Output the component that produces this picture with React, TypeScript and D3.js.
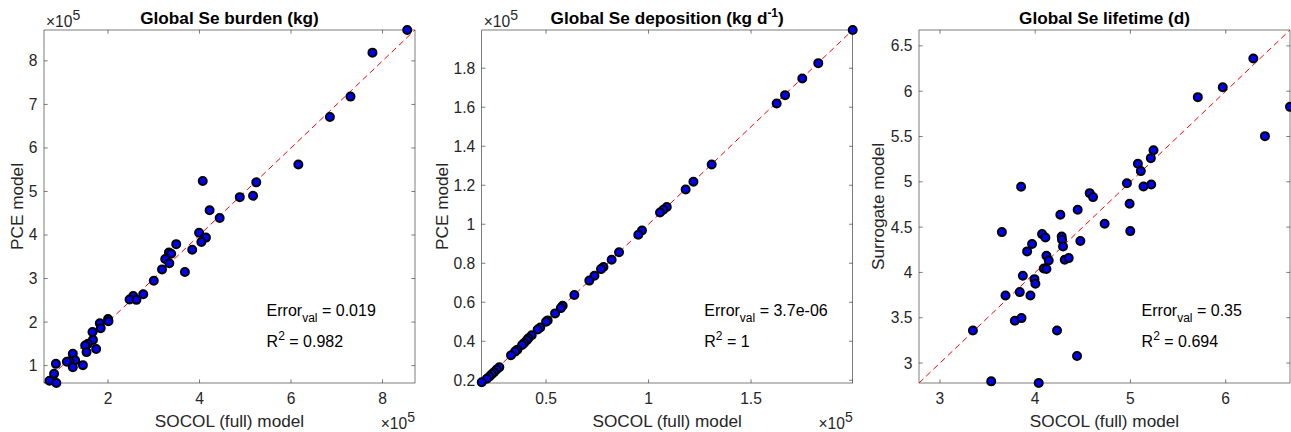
import React from "react";
import * as d3 from "d3";

// Global Se burden (x1e5 kg)
const burdenSocol = [8.54, 7.78, 7.30, 6.85, 6.16, 4.07, 5.24, 4.88, 5.17, 4.22, 4.44, 3.99, 4.14, 4.04, 3.49, 3.84, 3.33, 3.38, 3.25, 3.34, 3.68, 3.18, 3.00, 2.77, 2.55, 2.47, 2.62, 2.00, 2.01, 1.82, 1.84, 1.66, 1.67, 1.56, 1.50, 1.53, 1.74, 1.45, 1.23, 1.28, 1.16, 1.10, 1.23, 0.86, 0.82, 0.72, 0.87];
const burdenPce = [8.71, 8.19, 7.18, 6.71, 5.62, 5.24, 5.21, 4.87, 4.90, 4.57, 4.39, 4.05, 3.94, 3.84, 3.79, 3.66, 3.60, 3.57, 3.45, 3.35, 3.15, 3.21, 2.95, 2.64, 2.60, 2.52, 2.51, 2.07, 2.02, 1.97, 1.86, 1.77, 1.59, 1.50, 1.46, 1.31, 1.38, 1.01, 1.27, 1.12, 1.10, 1.09, 0.96, 1.04, 0.81, 0.65, 0.60];

// Global Se deposition (x1e5 kg d-1)
const depoSocol = [1.996, 1.828, 1.750, 1.666, 1.625, 1.308, 1.219, 1.181, 1.089, 1.072, 1.056, 0.968, 0.950, 0.856, 0.820, 0.780, 0.768, 0.736, 0.711, 0.638, 0.581, 0.572, 0.544, 0.508, 0.500, 0.472, 0.459, 0.430, 0.414, 0.406, 0.393, 0.383, 0.360, 0.349, 0.329, 0.272, 0.259, 0.246, 0.235, 0.224, 0.211, 0.186];
const depoPce = [1.996, 1.826, 1.747, 1.662, 1.619, 1.306, 1.218, 1.178, 1.088, 1.074, 1.060, 0.968, 0.946, 0.856, 0.818, 0.781, 0.770, 0.736, 0.711, 0.637, 0.582, 0.570, 0.543, 0.507, 0.500, 0.471, 0.460, 0.431, 0.415, 0.405, 0.391, 0.381, 0.357, 0.347, 0.328, 0.267, 0.255, 0.241, 0.231, 0.219, 0.208, 0.190];

// Global Se lifetime (d)
const lifeSocol = [6.290, 5.969, 5.707, 6.675, 6.412, 5.242, 5.214, 5.078, 5.109, 4.963, 5.218, 5.137, 4.991, 4.998, 4.572, 4.607, 4.729, 4.446, 4.264, 4.474, 4.278, 4.282, 4.292, 4.310, 4.352, 3.852, 3.650, 4.072, 4.107, 3.967, 3.915, 4.118, 4.142, 4.090, 4.118, 3.870, 3.992, 4.002, 3.688, 3.838, 3.950, 3.786, 3.856, 3.346, 4.229, 4.439, 3.538, 4.037];
const lifeSurrogate = [6.360, 6.044, 5.934, 5.827, 5.504, 5.349, 5.261, 5.199, 5.118, 4.985, 4.971, 4.949, 4.757, 4.456, 4.875, 4.831, 4.537, 4.691, 4.636, 4.346, 4.397, 4.360, 4.287, 4.140, 4.158, 4.945, 4.445, 4.423, 4.386, 4.313, 4.232, 4.184, 4.132, 4.044, 4.037, 3.963, 3.926, 3.875, 3.746, 3.783, 3.746, 3.467, 3.496, 3.360, 3.360, 3.077, 2.798, 2.780];

const burdenXTicks = [2, 4, 6, 8];
const burdenYTicks = [1, 2, 3, 4, 5, 6, 7, 8];
const depoXTicks = [0.5, 1, 1.5];
const depoYTicks = [0.2, 0.4, 0.6, 0.8, 1, 1.2, 1.4, 1.6, 1.8];
const lifeXTicks = [3, 4, 5, 6];
const lifeYTicks = [3, 3.5, 4, 4.5, 5, 5.5, 6, 6.5];

const errorVals = ["0.019", "3.7e-06", "0.35"];
const r2Vals = ["0.982", "1", "0.694"];

const FONT = "'Liberation Sans', Arial, Helvetica, sans-serif";
const INK = "#262626";

const W = 1291;
const H = 432;
const top = 30;
const bottom = 383;
const plotW = 371;

type PanelProps = {
  left: number;
  xs: number[];
  ys: number[];
  xTicks: number[];
  yTicks: number[];
  title: React.ReactNode;
  yLabel: string;
  yLabelX: number;
  exponent: boolean;
  err: string;
  r2: string;
};

const Exp = ({ x, y, anchor }: { x: number; y: number; anchor: string }) => (
  <text x={x} y={y} textAnchor={anchor} fontSize={15.6} fill={INK} fontFamily={FONT}>
    <tspan>×10</tspan>
    <tspan dy={-7} fontSize={14}>5</tspan>
  </text>
);

const Panel = ({ left, xs, ys, xTicks, yTicks, title, yLabel, yLabelX, exponent, err, r2 }: PanelProps) => {
  const ext = d3.extent([...xs, ...ys]) as [number, number];
  const x = d3.scaleLinear().domain(ext).range([left, left + plotW]);
  const y = d3.scaleLinear().domain(ext).range([bottom, top]);
  const fmt = d3.format("~g");
  const tl = 3.7;
  const cx = left + plotW / 2;
  const tx = left + plotW * 0.6;

  return (
    <g fontFamily={FONT}>
      <rect x={left} y={top} width={plotW} height={bottom - top} fill="#fff" stroke={INK} strokeWidth={0.6} />
      {xTicks.map((t) => (
        <g key={"x" + t}>
          <line x1={x(t)} x2={x(t)} y1={bottom} y2={bottom - tl} stroke={INK} strokeWidth={0.6} />
          <line x1={x(t)} x2={x(t)} y1={top} y2={top + tl} stroke={INK} strokeWidth={0.6} />
          <text x={x(t)} y={bottom + 21} textAnchor="middle" fontSize={15.6} fill={INK}>
            {fmt(t)}
          </text>
        </g>
      ))}
      {yTicks.map((t) => (
        <g key={"y" + t}>
          <line x1={left} x2={left + tl} y1={y(t)} y2={y(t)} stroke={INK} strokeWidth={0.6} />
          <line x1={left + plotW} x2={left + plotW - tl} y1={y(t)} y2={y(t)} stroke={INK} strokeWidth={0.6} />
          <text x={left - 6.5} y={y(t)} dy="0.35em" textAnchor="end" fontSize={15.6} fill={INK}>
            {fmt(t)}
          </text>
        </g>
      ))}
      <line
        x1={x(ext[0])}
        y1={y(ext[0])}
        x2={x(ext[1])}
        y2={y(ext[1])}
        stroke="#ff0000"
        strokeWidth={1}
        strokeDasharray="6,4"
      />
      {xs.map((v, i) => (
        <circle key={i} cx={x(v)} cy={y(ys[i])} r={4} fill="#0000ff" stroke="#000" strokeWidth={2} />
      ))}
      <text x={tx} y={316} fontSize={16} fill="#000">
        <tspan>Error</tspan>
        <tspan dy={6} fontSize={12}>val</tspan>
        <tspan dy={-6}>{" = " + err}</tspan>
      </text>
      <text x={tx} y={347} fontSize={16} fill="#000">
        <tspan>R</tspan>
        <tspan dy={-7} fontSize={12}>2</tspan>
        <tspan dy={7}>{" = " + r2}</tspan>
      </text>
      <text x={cx} y={24} textAnchor="middle" fontSize={17.2} fontWeight="bold" fill="#000">
        {title}
      </text>
      <text x={cx} y={427} textAnchor="middle" fontSize={17.2} fill={INK}>
        SOCOL (full) model
      </text>
      <text
        transform={`translate(${yLabelX},${(top + bottom) / 2}) rotate(-90)`}
        textAnchor="middle"
        dy="0.35em"
        fontSize={17.2}
        fill={INK}
      >
        {yLabel}
      </text>
      {exponent && <Exp x={left + 2} y={27} anchor="start" />}
      {exponent && <Exp x={left + plotW} y={429} anchor="end" />}
    </g>
  );
};

export default function App() {
  return (
    <div style={{ position: "absolute", left: 0, top: 0 }}>
      <svg width={W} height={H} style={{ display: "block", background: "#fff" }}>
        <rect width={W} height={H} fill="#fff" />
        <Panel
          left={44}
          xs={burdenSocol}
          ys={burdenPce}
          xTicks={burdenXTicks}
          yTicks={burdenYTicks}
          title="Global Se burden (kg)"
          yLabel="PCE model"
          yLabelX={17}
          exponent={true}
          err={errorVals[0]}
          r2={r2Vals[0]}
        />
        <Panel
          left={481.7}
          xs={depoSocol}
          ys={depoPce}
          xTicks={depoXTicks}
          yTicks={depoYTicks}
          title={
            <>
              <tspan>Global Se deposition (kg d</tspan>
              <tspan dy={-7} fontSize={12}>-1</tspan>
              <tspan dy={7}>)</tspan>
            </>
          }
          yLabel="PCE model"
          yLabelX={441.7}
          exponent={true}
          err={errorVals[1]}
          r2={r2Vals[1]}
        />
        <Panel
          left={919}
          xs={lifeSocol}
          ys={lifeSurrogate}
          xTicks={lifeXTicks}
          yTicks={lifeYTicks}
          title="Global Se lifetime (d)"
          yLabel="Surrogate model"
          yLabelX={878}
          exponent={false}
          err={errorVals[2]}
          r2={r2Vals[2]}
        />
      </svg>
    </div>
  );
}
